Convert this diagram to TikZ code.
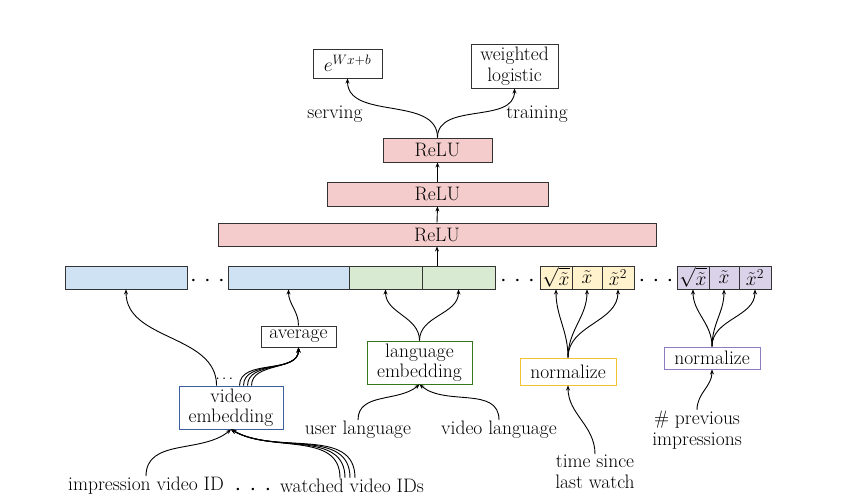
\RequirePackage{fix-cm}
\documentclass[tikz,border=0pt]{standalone}
\usepackage{amsmath}
\usetikzlibrary{arrows.meta}
\definecolor{blueF}{HTML}{CFE2F3}
\definecolor{greenF}{HTML}{D9EAD3}
\definecolor{yellowF}{HTML}{FFF2CC}
\definecolor{purpleF}{HTML}{D9D2E9}
\definecolor{redF}{HTML}{F4CCCC}
\definecolor{blueD}{HTML}{3C5FA0}
\definecolor{greenD}{HTML}{38761D}
\definecolor{yellowD}{HTML}{F1C232}
\definecolor{purpleD}{HTML}{8E7CC3}
\definecolor{edge}{HTML}{333333}
\begin{document}
\begin{tikzpicture}[x=1pt,y=-1pt,
  font=\fontsize{19.5}{20.5}\selectfont,
  every node/.style={inner sep=0pt},
  cell/.style={draw=edge, line width=0.9pt, minimum height=23pt, anchor=center},
  plain/.style={draw=edge, line width=0.9pt, fill=white, align=center},
  lbl/.style={align=center, inner sep=1pt},
  dotsnode/.style={inner sep=0pt, font=\fontsize{24}{24}\selectfont},
  arr/.style={-{Stealth[length=5pt,width=4pt]}, line width=0.9pt},
]
\useasboundingbox (0,0) rectangle (845,500);

% top outputs
\node[plain, minimum width=69pt, minimum height=29pt] (ebox) at (347.5,63.5) {$e^{Wx+b}$};
\node[plain, minimum width=87pt, minimum height=44pt] (wl) at (514.5,66) {weighted\\logistic};
\node[lbl] (serving) at (335,114) {serving};
\node[lbl] (training) at (537,114) {training};

% ReLU layers
\node[cell, fill=redF, minimum width=109pt, minimum height=24pt] (relu3) at (437.5,150) {ReLU};
\node[cell, fill=redF, minimum width=221pt, minimum height=24pt] (relu2) at (437.5,194) {ReLU};
\node[cell, fill=redF, minimum width=438pt, minimum height=23pt] (relu1) at (437,234.5) {ReLU};

% feature row
\node[cell, fill=blueF, minimum width=122pt] (b1) at (126,277.5) {};
\node[dotsnode] (d1) at (207.5,281) {$\cdot\hspace{2pt}\cdot\hspace{2pt}\cdot$};
\node[cell, fill=blueF, minimum width=121pt] (b2) at (288.5,277.5) {};
\node[cell, fill=greenF, minimum width=73pt] (g1) at (385.5,277.5) {};
\node[cell, fill=greenF, minimum width=73pt] (g2) at (458.5,277.5) {};
\node[dotsnode] (d2) at (517.5,281) {$\cdot\hspace{2pt}\cdot\hspace{2pt}\cdot$};
\node[cell, fill=yellowF, minimum width=32pt] (y1) at (556,277.5) {$\sqrt{\tilde{x}}$};
\node[cell, fill=yellowF, minimum width=30pt] (y2) at (587,277.5) {$\tilde{x}$};
\node[cell, fill=yellowF, minimum width=32pt] (y3) at (618,277.5) {$\tilde{x}^2$};
\node[dotsnode] (d3) at (656,281) {$\cdot\hspace{2pt}\cdot\hspace{2pt}\cdot$};
\node[cell, fill=purpleF, minimum width=32pt] (p1) at (693,277.5) {$\sqrt{\tilde{x}}$};
\node[cell, fill=purpleF, minimum width=30pt] (p2) at (724,277.5) {$\tilde{x}$};
\node[cell, fill=purpleF, minimum width=32pt] (p3) at (755,277.5) {$\tilde{x}^2$};
\coordinate (rowtop) at (relu1.south |- g2.north);

% middle boxes
\node[plain, minimum width=75pt, minimum height=21pt] (avg) at (298.5,336.5) {average};
\node[plain, draw=greenD, minimum width=105pt, minimum height=43pt] (lang) at (419.5,362.5) {language\\embedding};
\node[plain, draw=yellowD, minimum width=96pt, minimum height=27pt] (normY) at (568,371.5) {normalize};
\node[plain, draw=purpleD, minimum width=96pt, minimum height=22pt] (normP) at (712,358) {normalize};
\node[plain, draw=blueD, minimum width=104pt, minimum height=43pt] (vemb) at (231,407.5) {video\\embedding};
\node[inner sep=0pt, font=\fontsize{15}{15}\selectfont] (vdots) at ([xshift=47pt,yshift=6pt]vemb.north west) {$\cdots$};

% bottom labels
\node[lbl] (ulang) at (358,430) {user language};
\node[lbl] (vlang) at (499,430) {video language};
\node[lbl] (tsince) at (595,472) {time since\\last watch};
\node[lbl] (prev) at (697,430) {\# previous\\impressions};
\node[lbl] (impr) at (146,486) {impression video ID};
\node[dotsnode] (d4) at (253,490) {$\cdot\hspace{3pt}\cdot\hspace{3pt}\cdot$};
\node[lbl] (watched) at (352,486) {watched video IDs};

% connectors: top
\draw[arr] (relu3.north) to[out=90,in=-90] (ebox.south);
\draw[arr] (relu3.north) to[out=90,in=-90] (wl.south);
\draw[arr] (relu2.north) -- (relu3.south);
\draw[arr] (relu1.north) -- (relu2.south);
\draw[arr] (rowtop) -- (relu1.south);

% into feature row
\draw[arr] ([xshift=38pt]vemb.north west) to[out=90,in=-90] (b1.south);
\draw[arr] (avg.north) to[out=90,in=-90] (b2.south);
\draw[arr] (lang.north) to[out=90,in=-90] (g1.south);
\draw[arr] (lang.north) to[out=90,in=-90] (g2.south);
\foreach \c in {y1,y2,y3} \draw[arr] (normY.north) to[out=90,in=-90] (\c.south);
\foreach \c in {p1,p2,p3} \draw[arr] (normP.north) to[out=90,in=-90] (\c.south);

% video embedding to average
\foreach \s in {61,65,69,73}
  \draw[arr] ([xshift=\s pt]vemb.north west) to[out=90,in=-90] (avg.south);

% inputs
\draw[arr] (ulang.north) to[out=90,in=-140] (lang.south);
\draw[arr] (vlang.north) to[out=90,in=-40] (lang.south);
\draw[arr] (impr.north) to[out=90,in=-140] (vemb.south);
\foreach \s in {-12,-7,-2,3}
  \draw[arr] ([xshift=\s pt]watched.north) to[out=90,in=-30] (vemb.south);
\draw[arr] (tsince.north) to[out=90,in=-90] (normY.south);
\draw[arr] (prev.north) to[out=90,in=-90] (normP.south);
\end{tikzpicture}
\end{document}
